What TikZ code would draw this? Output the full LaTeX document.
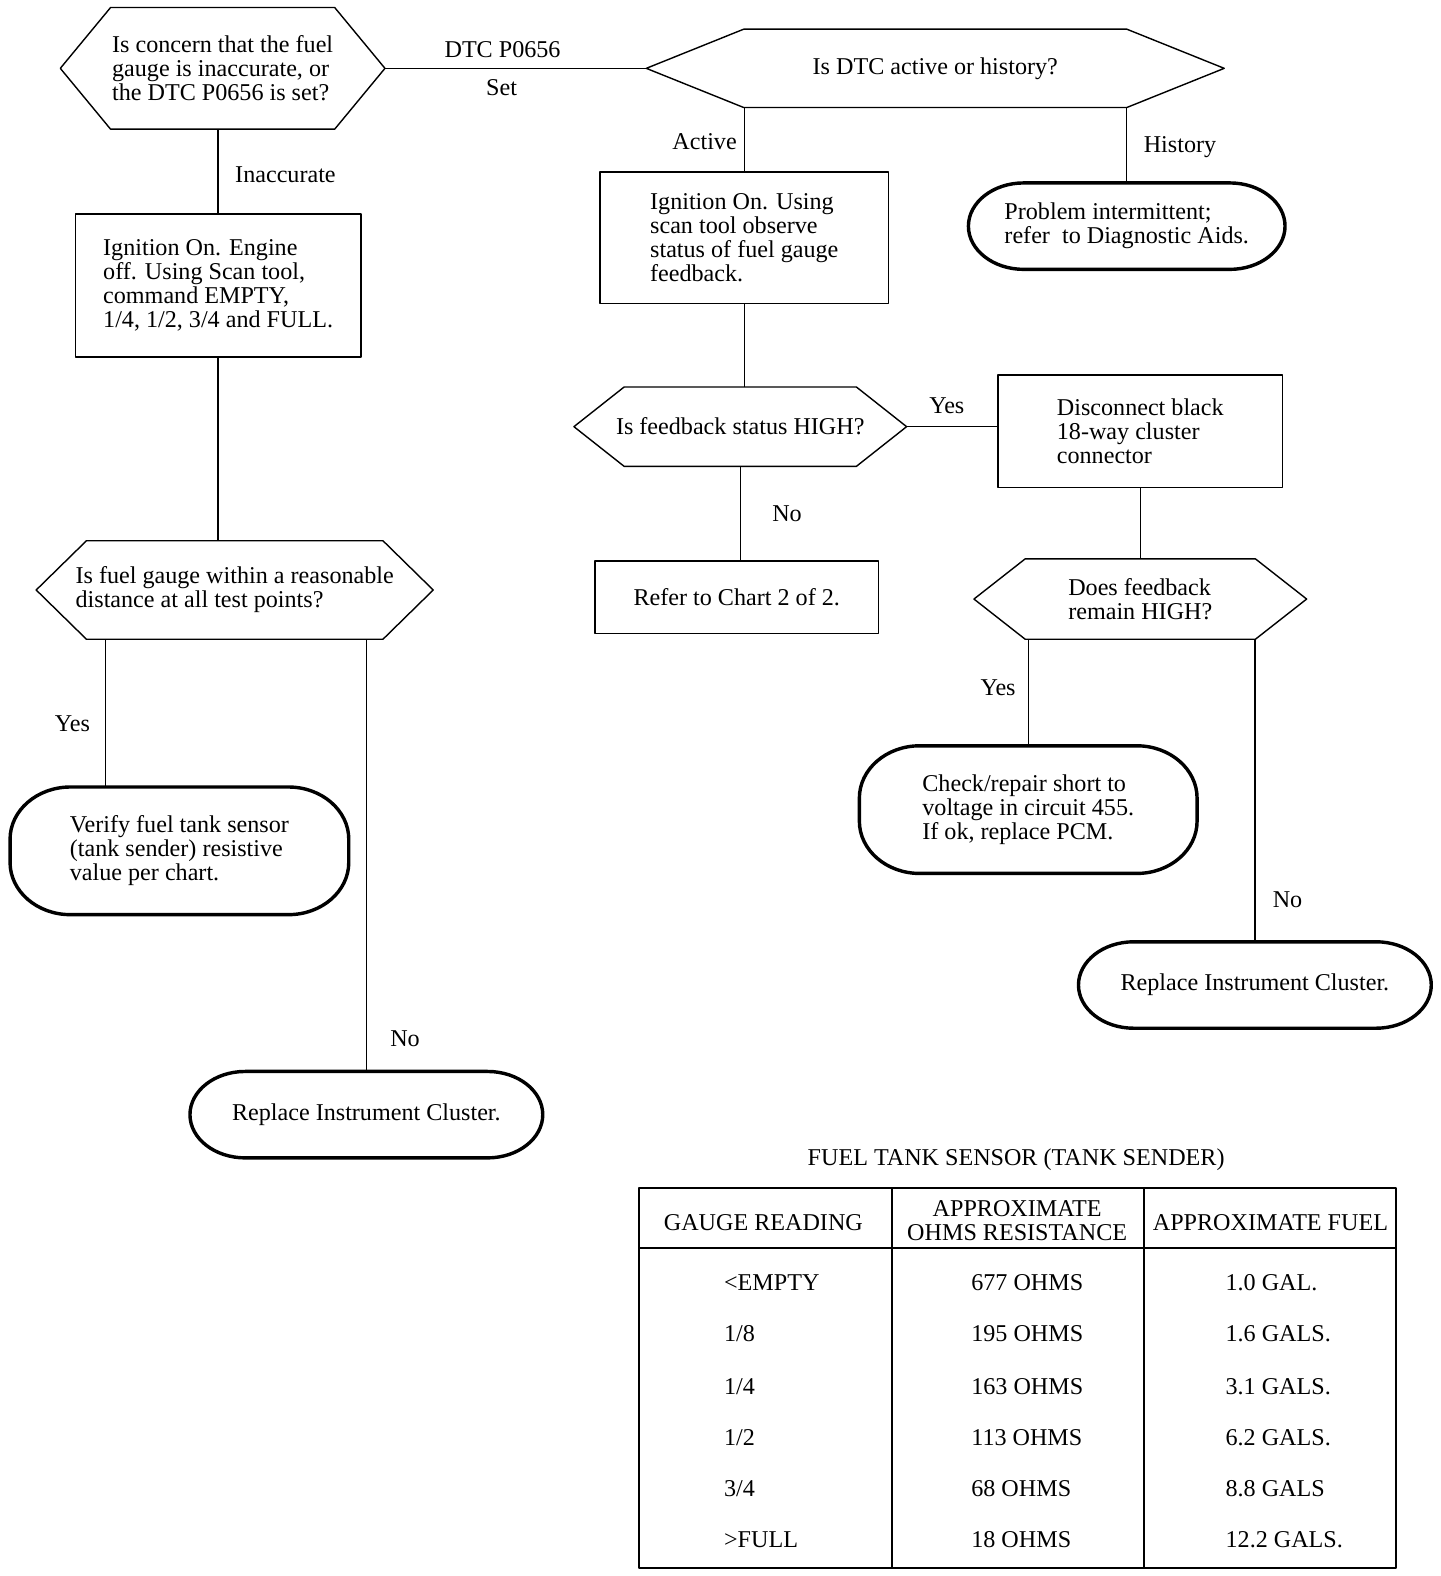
\documentclass[tikz,border=0pt]{standalone}
\usepackage{fontspec}
\setmainfont{Liberation Serif}
\usetikzlibrary{calc,positioning}

\newcommand{\hexpath}[2]{\draw[flowline] (#1.west) -- ($(#1.north west)+(#2,0)$) -- ($(#1.north east)-(#2,0)$) -- (#1.east) -- ($(#1.south east)-(#2,0)$) -- ($(#1.south west)+(#2,0)$) -- cycle;}
\newcommand{\termpath}[3]{\draw[termline] ($(#1.north west)+(#2,0)$) -- ($(#1.north east)-(#2,0)$)
  .. controls ($(#1.north east)-(0.448*#2,0)$) and ($(#1.north east)+(0,0.448*#3)$) .. ($(#1.north east)+(0,#3)$) -- ($(#1.south east)-(0,#3)$)
  .. controls ($(#1.south east)-(0,0.448*#3)$) and ($(#1.south east)-(0.448*#2,0)$) .. ($(#1.south east)-(#2,0)$) -- ($(#1.south west)+(#2,0)$)
  .. controls ($(#1.south west)+(0.448*#2,0)$) and ($(#1.south west)-(0,0.448*#3)$) .. ($(#1.south west)-(0,#3)$) -- ($(#1.north west)+(0,#3)$)
  .. controls ($(#1.north west)+(0,0.448*#3)$) and ($(#1.north west)+(0.448*#2,0)$) .. cycle;}

\begin{document}
\begin{tikzpicture}[x=0.5pt,y=-0.5pt,line join=round,font=\fontsize{12}{12}\selectfont,
  flowline/.style={line width=0.7pt},
  termline/.style={line width=1.7pt},
  hexnode/.style={inner sep=0pt,outer sep=0pt,align=left},
  stepbox/.style={draw,flowline,inner sep=0pt,outer sep=0pt,align=left},
  termbox/.style={inner sep=0pt,outer sep=0pt,align=left},
  cell/.style={inner sep=0pt,anchor=base west}]
  \useasboundingbox (0,0) rectangle (1433,1568);

  \node[hexnode,minimum width=161.5pt,minimum height=60.5pt] (q1) at (221.5,68) {Is concern that the fuel\\gauge is inaccurate, or\\the DTC P0656 is set?};
  \hexpath{q1}{50}
  \node[hexnode,minimum width=287.5pt,minimum height=39pt] (q2) at (930.5,68) {Is DTC active or history?};
  \hexpath{q2}{97}
  \node[stepbox,minimum width=142pt,minimum height=71pt] (b1) at (217,284) {Ignition On. Engine\\off. Using Scan tool,\\command EMPTY,\\1/4, 1/2, 3/4 and FULL.};
  \node[stepbox,minimum width=143.5pt,minimum height=65.5pt] (b2) at (740.5,236.5) {Ignition On. Using\\scan tool observe\\status of fuel gauge\\feedback.};
  \node[termbox,minimum width=157.5pt,minimum height=43pt] (t1) at (1121,225) {Problem intermittent;\\refer~ to Diagnostic Aids.};
  \termpath{t1}{55}{43}
  \node[hexnode,minimum width=165.5pt,minimum height=39.5pt] (q3) at (736.5,424.5) {Is feedback status HIGH?};
  \hexpath{q3}{50}
  \node[stepbox,minimum width=141.5pt,minimum height=56pt] (b3) at (1134.5,429) {Disconnect black\\18-way cluster\\connector};
  \node[stepbox,minimum width=141pt,minimum height=36pt] (b4) at (733,594) {Refer to Chart 2 of 2.};
  \node[hexnode,minimum width=165.5pt,minimum height=40pt] (q4) at (1134.5,596) {Does feedback\\remain HIGH?};
  \hexpath{q4}{51}
  \node[termbox,minimum width=168pt,minimum height=63.5pt] (t2) at (1023,805.5) {Check/repair short to\\voltage in circuit 455.\\If ok, replace PCM.};
  \termpath{t2}{60}{52}
  \node[termbox,minimum width=175.5pt,minimum height=43pt] (t3) at (1248.5,980) {Replace Instrument Cluster.};
  \termpath{t3}{55}{43}
  \node[hexnode,minimum width=197.5pt,minimum height=49pt] (q5) at (233.5,587) {Is fuel gauge within a reasonable\\distance at all test points?};
  \hexpath{q5}{50}
  \node[termbox,minimum width=168.5pt,minimum height=63.5pt] (t4) at (178.5,846.5) {Verify fuel tank sensor\\(tank sender) resistive\\value per chart.};
  \termpath{t4}{60}{52}
  \node[termbox,minimum width=175.5pt,minimum height=43pt] (t5) at (364.5,1109) {Replace Instrument Cluster.};
  \termpath{t5}{55}{43}

  \draw[flowline] (q1.east) -- (q2.west);
  \draw[flowline] (b1.north) -- (b1.north |- q1.south);
  \draw[flowline] (b2.north) -- (b2.north |- q2.south);
  \draw[flowline] (t1.north) -- (t1.north |- q2.south);
  \draw[flowline] (b2.south) -- (b2.south |- q3.north);
  \draw[flowline] (q3.east) -- (q3.east -| b3.west);
  \draw[flowline] (q3.south) -- (q3.south |- b4.north);
  \draw[flowline] (b3.south) -- (b3.south |- q4.north);
  \draw[flowline] (t2.north) -- (t2.north |- q4.south);
  \draw[flowline] (t3.north) -- (t3.north |- q4.south);
  \draw[flowline] (b1.south) -- (b1.south |- q5.north);
  \coordinate (q5yes) at ($(q5.south west)+(69,0)$);
  \draw[flowline] (q5yes) -- (q5yes |- t4.north);
  \draw[flowline] (t5.north) -- (t5.north |- q5.south);

  \node (ldtc) at (500,49) {DTC P0656};
  \node (lset) at (499,87) {Set};
  \node (linacc) at (284,174) {Inaccurate};
  \node (lactive) at (701,141) {Active};
  \node (lhist) at (1174,146) {History};
  \node (lyes1) at (942,404) {Yes};
  \node (lno1) at (783,511) {No};
  \node (lyes2) at (993,684) {Yes};
  \node (lno2) at (1281,895) {No};
  \node (lyes3) at (72,720) {Yes};
  \node (lno3) at (403,1033) {No};

  \node (ttitle) at (1011,1154) {FUEL TANK SENSOR (TANK SENDER)};
  \draw[line width=1pt] (636,1182) rectangle (1389,1560);
  \draw[line width=1pt] (887,1182) -- (887,1560) (1138,1182) -- (1138,1560) (636,1242) -- (1389,1242);
  \node (hgauge) at (759.5,1216) {GAUGE READING};
  \node[align=center] (hohms) at (1012,1214) {APPROXIMATE\\OHMS RESISTANCE};
  \node (hfuel) at (1264,1216) {APPROXIMATE FUEL};
  \foreach \gauge/\ohms/\fuel/\ry [count=\i] in {{<EMPTY}/677 OHMS/1.0 GAL./1276,{1/8}/195 OHMS/1.6 GALS./1327,{1/4}/163 OHMS/3.1 GALS./1379,{1/2}/113 OHMS/6.2 GALS./1430,{3/4}/68 OHMS/8.8 GALS/1481,{>FULL}/18 OHMS/12.2 GALS./1532}{
    \node[cell] (g\i) at (720,\ry+8) {\gauge};
    \node[cell] (o\i) at (966,\ry+8) {\ohms};
    \node[cell] (f\i) at (1219,\ry+8) {\fuel};
  }
\end{tikzpicture}
\end{document}
